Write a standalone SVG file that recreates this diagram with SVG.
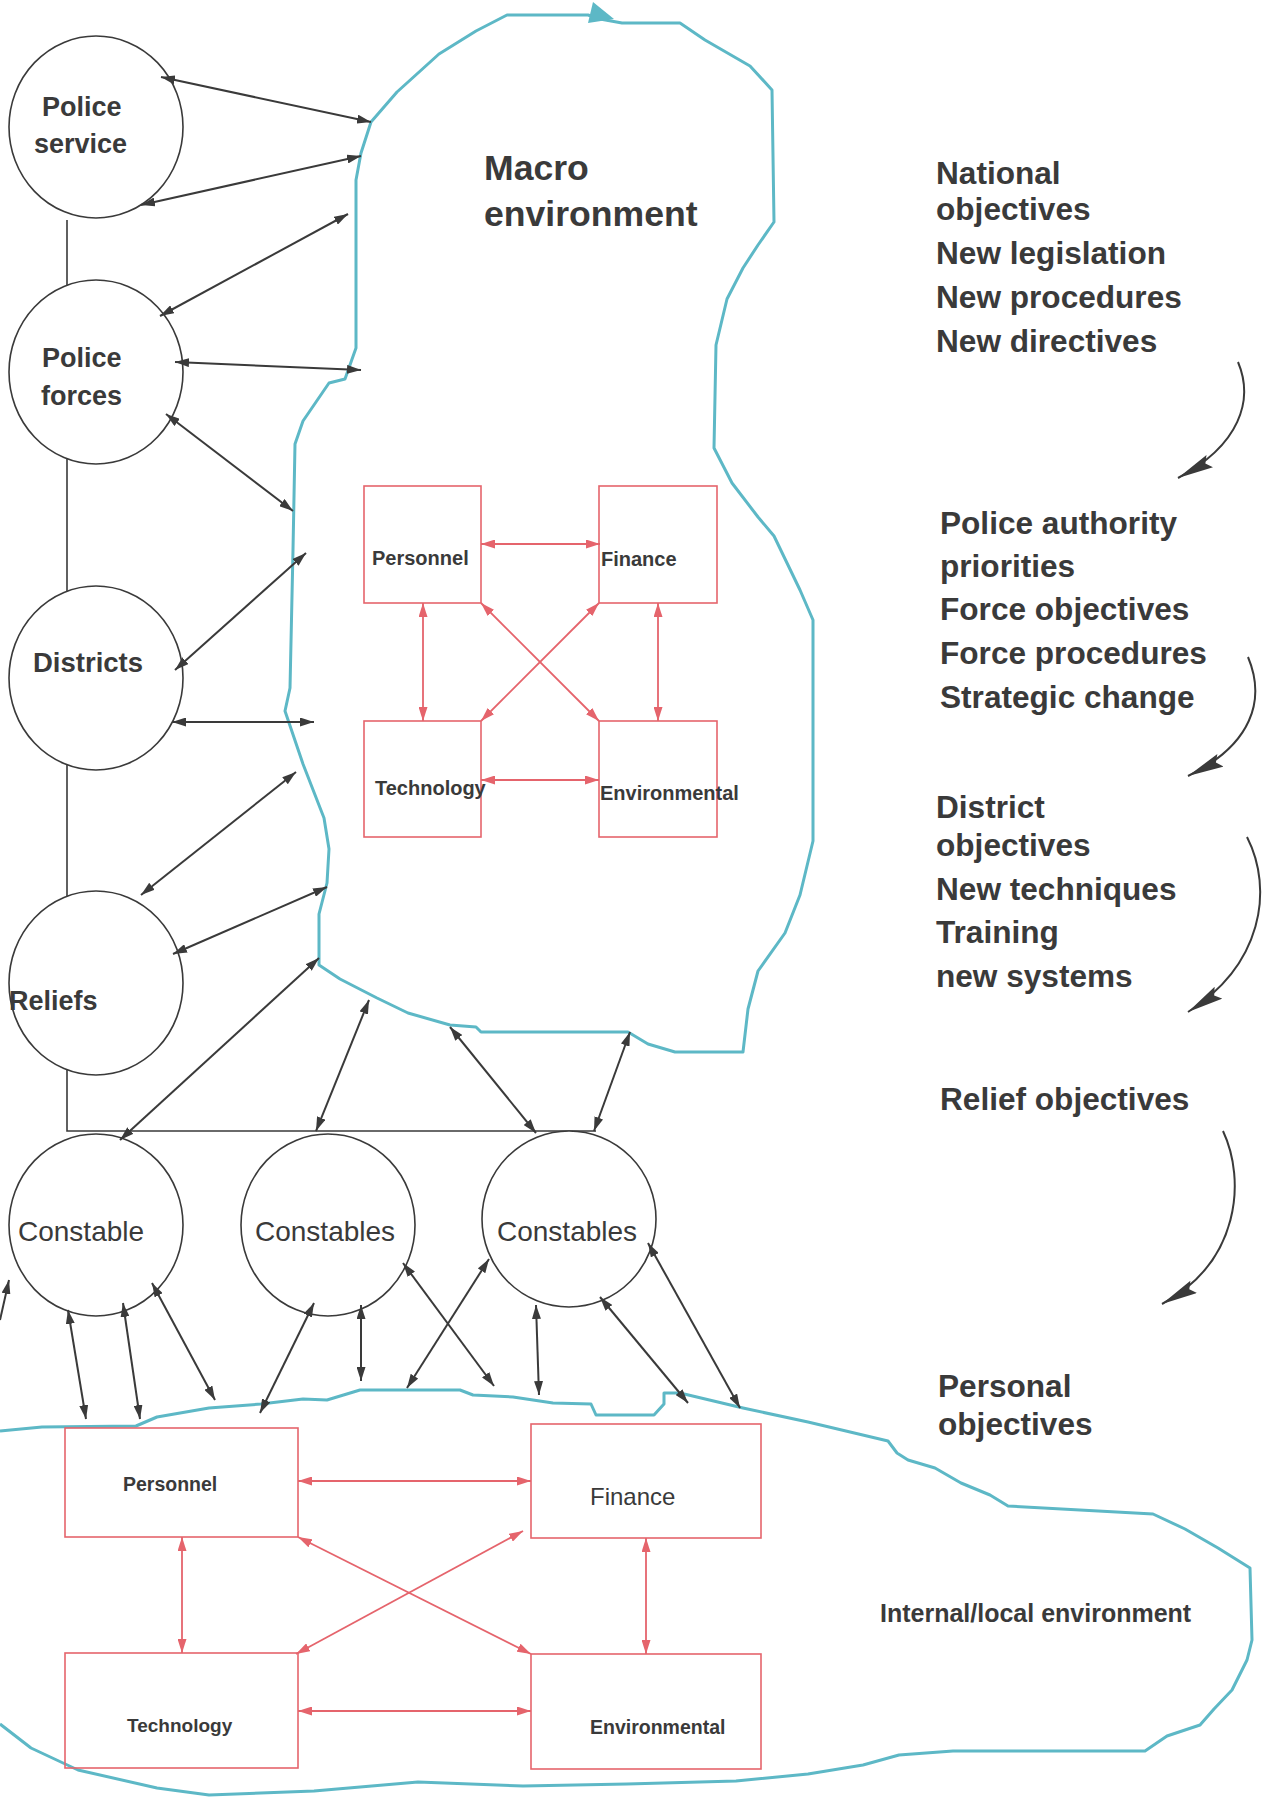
<svg xmlns="http://www.w3.org/2000/svg" width="1268" height="1801" viewBox="0 0 1268 1801">
<style>
  .bg{fill:#ffffff}
  .circ{fill:#ffffff;stroke:#3a3a3a;stroke-width:1.6}
  .frame{fill:none;stroke:#3a3a3a;stroke-width:1.6}
  .cloud{fill:none;stroke:#5db8c6;stroke-width:3;stroke-linejoin:round}
  .rbox{fill:none;stroke:#e5646c;stroke-width:1.6}
  .conn{stroke:#3a3a3a;stroke-width:2;fill:none;marker-start:url(#ah);marker-end:url(#ah)}
  .rconn{stroke:#e5646c;stroke-width:1.8;fill:none;marker-start:url(#rh);marker-end:url(#rh)}
  .flow{stroke:#3a3a3a;stroke-width:2;fill:none;marker-end:url(#big)}
  .t{font-family:"Liberation Sans",Arial,sans-serif;fill:#3a3a3a}
  .b{font-weight:bold}
  .c27{font-size:27px}
  .r28{font-size:28px}
  .b20{font-size:20px}
  .rc{font-size:31.6px}
</style>
<defs>
  <marker id="ah" markerUnits="userSpaceOnUse" markerWidth="15" markerHeight="9" refX="14" refY="4.5" orient="auto-start-reverse">
    <path d="M0,0 L14,4.5 L0,9 z" fill="#3a3a3a"/>
  </marker>
  <marker id="rh" markerUnits="userSpaceOnUse" markerWidth="15" markerHeight="9" refX="14" refY="4.5" orient="auto-start-reverse">
    <path d="M0,0 L14,4.5 L0,9 z" fill="#e5646c"/>
  </marker>
  <marker id="big" markerUnits="userSpaceOnUse" markerWidth="38" markerHeight="16" refX="36" refY="7" orient="auto">
    <path d="M0,0 L36,7 L0,14 L5,7 z" fill="#3a3a3a"/>
  </marker>
</defs>
<rect class="bg" x="0" y="0" width="1268" height="1801"/>

<g id="frame">
  <path class="frame" d="M67,220 L67,1131 L596,1131"/>
</g>

<g id="macro-environment">
  <path class="cloud" d="M371,122 L397,92 L439,54 L476,31 L507,15 L588,15 L600,19 L622,23 L680,23 L705,40 L750,66 L772,90 L774,222 L758,245 L743,268 L727,299 L716,345 L714,448 L732,483 L758,517 L774,536 L800,590 L813,620 L813,841 L800,895 L785,933 L758,971 L748,1009 L743,1052 L675,1052 L648,1044 L628,1032 L481,1032 L476,1027 L450,1025 L408,1013 L377,998 L340,979 L319,965 L319,914 L327,883 L329,849 L324,818 L303,764 L285,711 L290,688 L293,550 L295,444 L303,421 L329,383 L345,379 L356,348 L356,180 L361,153 Z"/>
  <polygon points="588,23 593,2 614,19" fill="#5db8c6"/>
  <text class="t b" x="484" y="180" font-size="35.6">Macro</text>
  <text class="t b" x="484" y="226" font-size="35.6">environment</text>
</g>

<g id="internal-environment">
  <path class="cloud" d="M0,1431 L42,1427 L136,1426 L157,1417 L209,1408 L261,1404 L303,1399 L327,1400 L360,1390 L460,1390 L473,1395 L513,1397 L553,1403 L591,1404 L596,1415 L654,1415 L664,1404 L664,1393 L680,1393 L743,1408 L808,1422 L888,1441 L897,1453 L908,1460 L935,1468 L961,1483 L990,1495 L1008,1506 L1153,1514 L1185,1529 L1218,1548 L1250,1568 L1252,1640 L1247,1660 L1232,1690 L1214,1709 L1200,1725 L1167,1736 L1145,1751 L953,1751 L899,1755 L863,1765 L808,1774 L736,1781 L627,1784 L523,1786 L418,1782 L314,1791 L209,1795 L157,1788 L78,1770 L31,1748 L0,1724"/>
  <text class="t b" x="880" y="1622" font-size="25">Internal/local environment</text>
</g>

<g id="police-service">
  <ellipse class="circ" cx="96" cy="127" rx="87" ry="91"/>
  <text class="t b c27" x="42" y="116">Police</text>
  <text class="t b c27" x="34" y="153">service</text>
</g>
<g id="police-forces">
  <ellipse class="circ" cx="96" cy="372" rx="87" ry="92"/>
  <text class="t b c27" x="42" y="367">Police</text>
  <text class="t b c27" x="41" y="405">forces</text>
</g>
<g id="districts">
  <ellipse class="circ" cx="96" cy="678" rx="87" ry="92"/>
  <text class="t b" x="33" y="672" font-size="27.5">Districts</text>
</g>
<g id="reliefs">
  <ellipse class="circ" cx="96" cy="983" rx="87" ry="92"/>
  <text class="t b c27" x="9" y="1010">Reliefs</text>
</g>
<g id="constable-1">
  <ellipse class="circ" cx="96" cy="1225" rx="87" ry="91"/>
  <text class="t r28" x="18" y="1241">Constable</text>
</g>
<g id="constables-2">
  <ellipse class="circ" cx="328" cy="1225" rx="87" ry="91"/>
  <text class="t r28" x="255" y="1241">Constables</text>
</g>
<g id="constables-3">
  <ellipse class="circ" cx="569" cy="1219" rx="87" ry="88"/>
  <text class="t r28" x="497" y="1241">Constables</text>
</g>

<g id="macro-personnel">
  <rect class="rbox" x="364" y="486" width="117" height="117"/>
  <text class="t b b20" x="372" y="565">Personnel</text>
</g>
<g id="macro-finance">
  <rect class="rbox" x="599" y="486" width="118" height="117"/>
  <text class="t b b20" x="601" y="566">Finance</text>
</g>
<g id="macro-technology">
  <rect class="rbox" x="364" y="721" width="117" height="116"/>
  <text class="t b b20" x="375" y="795">Technology</text>
</g>
<g id="macro-environmental">
  <rect class="rbox" x="599" y="721" width="118" height="116"/>
  <text class="t b b20" x="600" y="800">Environmental</text>
</g>

<g id="local-personnel">
  <rect class="rbox" x="65" y="1428" width="233" height="109"/>
  <text class="t b" x="123" y="1491" font-size="19.5">Personnel</text>
</g>
<g id="local-finance">
  <rect class="rbox" x="531" y="1424" width="230" height="114"/>
  <text class="t" x="590" y="1505" font-size="24">Finance</text>
</g>
<g id="local-technology">
  <rect class="rbox" x="65" y="1653" width="233" height="115"/>
  <text class="t b" x="127" y="1732" font-size="19">Technology</text>
</g>
<g id="local-environmental">
  <rect class="rbox" x="531" y="1654" width="230" height="115"/>
  <text class="t b" x="590" y="1734" font-size="19.5">Environmental</text>
</g>

<g id="objectives">
  <text class="t b rc" x="936" y="184">National</text>
  <text class="t b rc" x="936" y="220">objectives</text>
  <text class="t b rc" x="936" y="264">New legislation</text>
  <text class="t b rc" x="936" y="308">New procedures</text>
  <text class="t b rc" x="936" y="352">New directives</text>
  <text class="t b rc" x="940" y="534">Police authority</text>
  <text class="t b rc" x="940" y="577">priorities</text>
  <text class="t b rc" x="940" y="620">Force objectives</text>
  <text class="t b rc" x="940" y="664">Force procedures</text>
  <text class="t b rc" x="940" y="708">Strategic change</text>
  <text class="t b rc" x="936" y="818">District</text>
  <text class="t b rc" x="936" y="856">objectives</text>
  <text class="t b rc" x="936" y="900">New techniques</text>
  <text class="t b rc" x="936" y="943">Training</text>
  <text class="t b rc" x="936" y="987">new systems</text>
  <text class="t b rc" x="940" y="1110">Relief objectives</text>
  <text class="t b rc" x="938" y="1397">Personal</text>
  <text class="t b rc" x="938" y="1435">objectives</text>
</g>

<g id="connectors">
  <line class="conn" x1="161" y1="77" x2="371" y2="122"/>
  <line class="conn" x1="141" y1="205" x2="361" y2="156"/>
  <line class="conn" x1="160" y1="316" x2="348" y2="214"/>
  <line class="conn" x1="175" y1="362" x2="361" y2="370"/>
  <line class="conn" x1="166" y1="414" x2="293" y2="511"/>
  <line class="conn" x1="175" y1="670" x2="306" y2="553"/>
  <line class="conn" x1="172" y1="722" x2="314" y2="722"/>
  <line class="conn" x1="141" y1="895" x2="296" y2="772"/>
  <line class="conn" x1="173" y1="954" x2="327" y2="887"/>
  <line class="conn" x1="120" y1="1140" x2="319" y2="958"/>
  <line class="conn" x1="316" y1="1131" x2="369" y2="1000"/>
  <line class="conn" x1="536" y1="1133" x2="450" y2="1027"/>
  <line class="conn" x1="594" y1="1131" x2="630" y2="1032"/>
  <line class="conn" x1="68" y1="1310" x2="86" y2="1419"/>
  <line class="conn" x1="123" y1="1303" x2="140" y2="1419"/>
  <line class="conn" x1="152" y1="1283" x2="215" y2="1400"/>
  <line class="conn" x1="314" y1="1303" x2="260" y2="1413"/>
  <line class="conn" x1="361" y1="1305" x2="361" y2="1381"/>
  <line class="conn" x1="403" y1="1263" x2="494" y2="1386"/>
  <line class="conn" x1="489" y1="1259" x2="407" y2="1388"/>
  <line class="conn" x1="536" y1="1305" x2="539" y2="1395"/>
  <line class="conn" x1="600" y1="1297" x2="688" y2="1403"/>
  <line class="conn" x1="648" y1="1243" x2="740" y2="1408"/>
  <line x1="0" y1="1320" x2="9" y2="1280" stroke="#3a3a3a" stroke-width="2" marker-end="url(#ah)"/>

  <line class="rconn" x1="481" y1="544" x2="600" y2="544"/>
  <line class="rconn" x1="481" y1="780" x2="599" y2="780"/>
  <line class="rconn" x1="423" y1="603" x2="423" y2="721"/>
  <line class="rconn" x1="658" y1="603" x2="658" y2="721"/>
  <line class="rconn" x1="481" y1="603" x2="599" y2="721"/>
  <line class="rconn" x1="599" y1="603" x2="481" y2="721"/>

  <line class="rconn" x1="298" y1="1481" x2="531" y2="1481"/>
  <line class="rconn" x1="298" y1="1711" x2="531" y2="1711"/>
  <line class="rconn" x1="182" y1="1537" x2="182" y2="1653"/>
  <line class="rconn" x1="646" y1="1538" x2="646" y2="1654"/>
  <line class="rconn" x1="298" y1="1537" x2="531" y2="1654"/>
  <line class="rconn" x1="523" y1="1531" x2="296" y2="1654"/>

  <path class="flow" d="M1238,362 C1254,400 1240,445 1178,478"/>
  <path class="flow" d="M1248,657 C1266,700 1252,745 1188,776"/>
  <path class="flow" d="M1247,837 C1274,890 1262,965 1188,1012"/>
  <path class="flow" d="M1223,1131 C1246,1180 1240,1262 1162,1304"/>
</g>
</svg>
